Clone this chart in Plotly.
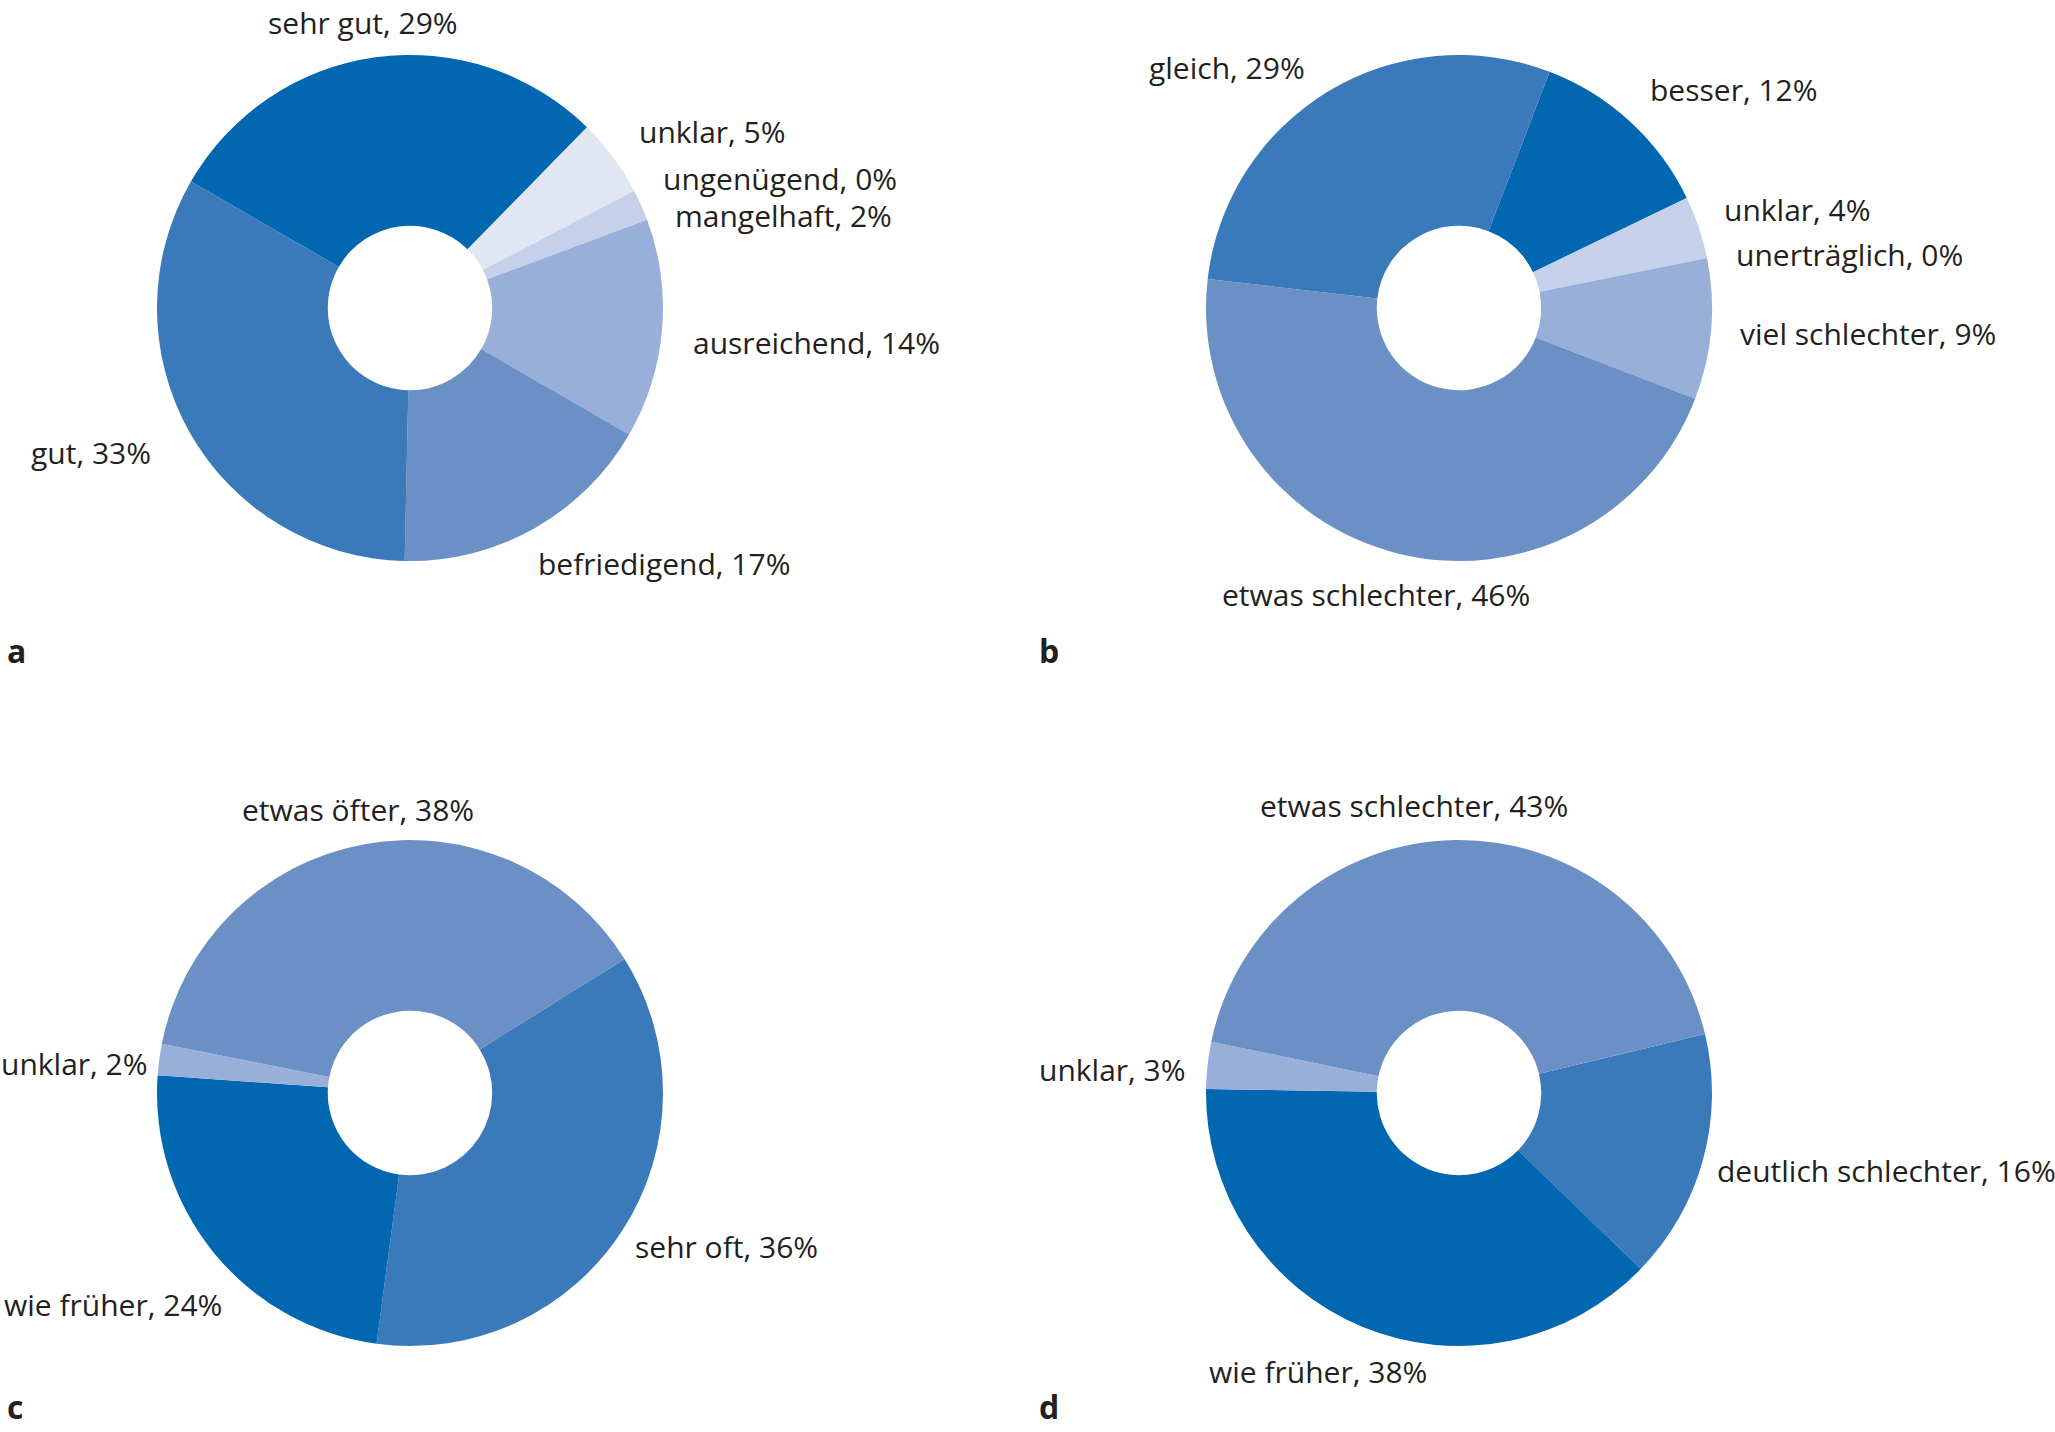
import plotly.graph_objects as go

W, H = 2055, 1432

# ---- data (clockwise order, starting with first slice) ----
a_labels = ["sehr gut", "unklar", "ungenügend", "mangelhaft", "ausreichend", "befriedigend", "gut"]
a_values = [29, 5, 0, 2, 14, 17, 33]

b_labels = ["besser", "unklar", "unerträglich", "viel schlechter", "etwas schlechter", "gleich"]
b_values = [12, 4, 0, 9, 46, 29]

c_labels = ["sehr oft", "wie früher", "unklar", "etwas öfter"]
c_values = [36, 24, 2, 38]

d_labels = ["deutlich schlechter", "wie früher", "unklar", "etwas schlechter"]
d_values = [16, 38, 3, 43]

panel_letters = ["a", "b", "c", "d"]

# ---- styling ----
C1, C2, C3, C4, C5, C6 = "#0067b0", "#3a7aba", "#6b90c6", "#98b0d9", "#c5d1ea", "#e1e6f3"
a_colors = [C1, C6, C5, C5, C4, C3, C2]
b_colors = [C1, C5, C5, C4, C3, C2]
c_colors = [C2, C1, C4, C3]
d_colors = [C2, C1, C4, C3]

FONT = "Open Sans"
TXT = "#231f20"
FS = 30

# pie geometry in px: center x, center y, radius, rotation
R = 253
panels = [
    dict(labels=a_labels, values=a_values, colors=a_colors, cx=410, cy=308, rot=-60,
         pos=[(267, 22), (638, 131), (662, 178), (674, 215), (692, 342), (537, 564), (30, 453)]),
    dict(labels=b_labels, values=b_values, colors=b_colors, cx=1459, cy=308, rot=21,
         pos=[(1649, 89), (1723, 210), (1735, 254), (1739, 333), (1221, 594), (1148, 68)]),
    dict(labels=c_labels, values=c_values, colors=c_colors, cx=410, cy=1093, rot=58,
         pos=[(634, 1246), (3, 1304), (0, 1063), (241, 809)]),
    dict(labels=d_labels, values=d_values, colors=d_colors, cx=1459, cy=1093, rot=76.5,
         pos=[(1716, 1170), (1208, 1371), (1038, 1069), (1259, 805)]),
]
letter_pos = [(6, 650), (1038, 650), (6, 1406), (1038, 1406)]

fig = go.Figure()
annotations = []
for p in panels:
    fig.add_trace(go.Pie(
        labels=p["labels"], values=p["values"], sort=False, direction="clockwise",
        rotation=p["rot"], hole=0.325, textinfo="none", hoverinfo="label+percent",
        marker=dict(colors=p["colors"], line=dict(width=0)),
        domain=dict(x=[(p["cx"] - R) / W, (p["cx"] + R) / W],
                    y=[1 - (p["cy"] + R) / H, 1 - (p["cy"] - R) / H]),
        showlegend=False,
    ))
    for lab, val, (x, y) in zip(p["labels"], p["values"], p["pos"]):
        annotations.append(dict(
            text=f"{lab}, {val}%", x=x / W, y=1 - y / H, xref="paper", yref="paper",
            xanchor="left", yanchor="middle", showarrow=False,
            font=dict(family=FONT, size=FS, color=TXT), borderpad=0,
        ))

for letter, (x, y) in zip(panel_letters, letter_pos):
    annotations.append(dict(
        text=f"<b>{letter}</b>", x=x / W, y=1 - y / H, xref="paper", yref="paper",
        xanchor="left", yanchor="middle", showarrow=False,
        font=dict(family=FONT, size=32, color=TXT), borderpad=0,
    ))

fig.update_layout(
    width=W, height=H, margin=dict(l=0, r=0, t=0, b=0),
    paper_bgcolor="white", plot_bgcolor="white",
    annotations=annotations,
)
fig.write_html("out.html", config={"displayModeBar": False},
               post_script="document.body.style.margin='0';document.body.style.padding='0';")
